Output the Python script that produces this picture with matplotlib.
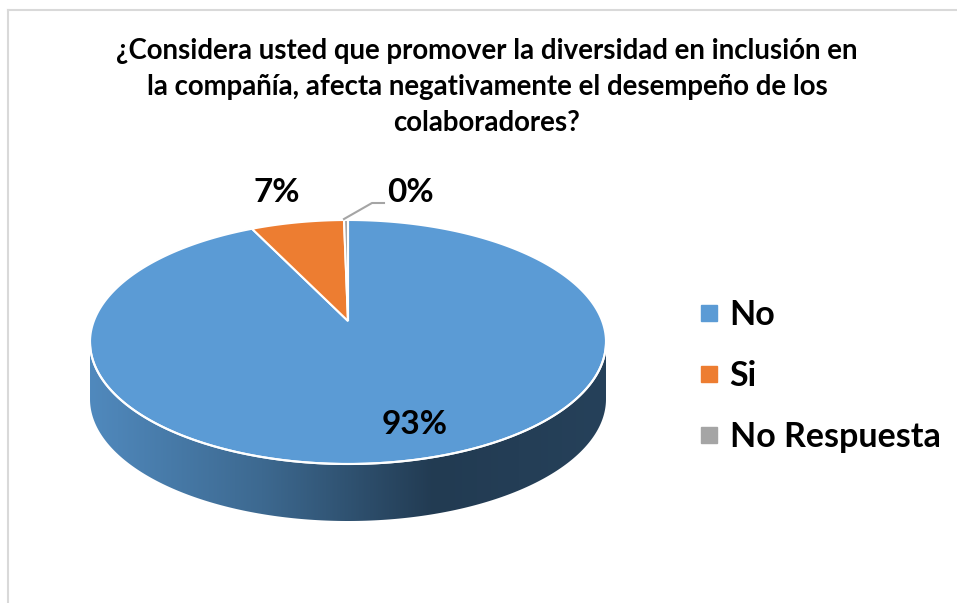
import numpy as np
import matplotlib.pyplot as plt
from matplotlib.patches import Polygon
from matplotlib.lines import Line2D
from matplotlib.colors import LinearSegmentedColormap

categories = ['No', 'Si', 'No Respuesta']
values = [93, 7, 0.3]
labels = ['93%', '7%', '0%']
colors = ['#5b9bd5', '#ed7d31', '#a5a5a5']

title = ('¿Considera usted que promover la diversidad en inclusión en\n'
         'la compañía, afecta negativamente el desempeño de los\n'
         'colaboradores?')

plt.rcParams['font.family'] = ['Lato', 'DejaVu Sans']

fig = plt.figure(figsize=(9.57, 6.03), dpi=100)
ax = fig.add_axes([0, 0, 1, 1])
ax.set_xlim(0, 957)
ax.set_ylim(603, 0)
ax.axis('off')

# pie geometry (pixel coords)
cx, cy = 348, 342
a, b = 258, 122
apex_y = 321
depth = 57


def rim(theta):
    return cx + a * np.cos(theta), cy - b * np.sin(theta)


def rim_from_apex(theta):
    # ray from the (perspective-shifted) apex, hitting the top ellipse
    dx = a * np.cos(theta)
    dy = -b * np.sin(theta)
    oy = apex_y - cy
    A = (dx / a) ** 2 + (dy / b) ** 2
    B = 2 * oy * dy / b ** 2
    C = (oy / b) ** 2 - 1
    s = (-B + np.sqrt(B ** 2 - 4 * A * C)) / (2 * A)
    return cx + s * dx, apex_y + s * dy


# side wall with gradient
t = np.linspace(np.pi, 2 * np.pi, 200)
x_top, y_top = rim(t)
side = np.concatenate([np.column_stack([x_top, y_top]),
                       np.column_stack([x_top[::-1], y_top[::-1] + depth])])
side_patch = Polygon(side, closed=True, facecolor='none', edgecolor='none')
ax.add_patch(side_patch)
grad = np.linspace(0, 1, 256)[None, :]
cmap = LinearSegmentedColormap.from_list('side', ['#5089bd', '#3d6990', '#223b52', '#26415a'])
im = ax.imshow(grad, extent=[cx - a, cx + a, cy + b + depth, cy - 5], cmap=cmap,
               aspect='auto', zorder=1)
im.set_clip_path(side_patch)

# top face slices, clockwise from 12 o'clock
total = sum(values)
start = np.pi / 2
for val, col in zip(values, colors):
    sweep = 2 * np.pi * val / total
    th = np.linspace(start, start - sweep, max(int(400 * val / total), 3))
    xs, ys = rim_from_apex(th)
    pts = np.vstack([[cx, apex_y], np.column_stack([xs, ys])])
    ax.add_patch(Polygon(pts, closed=True, facecolor=col, edgecolor='white',
                         linewidth=1.5, zorder=2))
    start -= sweep

# white rim between top and side
ax.plot(x_top, y_top, color='white', linewidth=1.5, zorder=3)

# data labels
ax.text(415, 425, labels[0], fontsize=24, fontweight='bold', ha='center', va='center', zorder=4)
ax.text(277, 193, labels[1], fontsize=24, fontweight='bold', ha='center', va='center', zorder=4)
ax.text(410, 193, labels[2], fontsize=24, fontweight='bold', ha='center', va='center', zorder=4)
ax.plot([344, 372, 384], [219, 203, 203], color='#a5a5a5', linewidth=1.5, zorder=4)

# title
ax.text(487, 87, title, fontsize=19.9, fontweight='bold', ha='center', va='center',
        linespacing=1.47)

# legend
handles = [Line2D([], [], marker='s', linestyle='none', markersize=11,
                  markerfacecolor=c, markeredgecolor=c) for c in colors]
ax.legend(handles, categories, loc='center left', bbox_to_anchor=(0.709, 0.376),
          frameon=False, prop={'size': 24.5, 'weight': 'bold'}, labelspacing=0.85,
          handletextpad=0.2, handlelength=0.8, borderpad=0)

# chart area border (top and left visible)
fig.add_artist(Line2D([8 / 957, 8 / 957], [0, 1 - 10 / 603], color='#d9d9d9', linewidth=1.5))
fig.add_artist(Line2D([8 / 957, 1], [1 - 10 / 603, 1 - 10 / 603], color='#d9d9d9', linewidth=1.5))

fig.savefig('out.png', dpi=100)
